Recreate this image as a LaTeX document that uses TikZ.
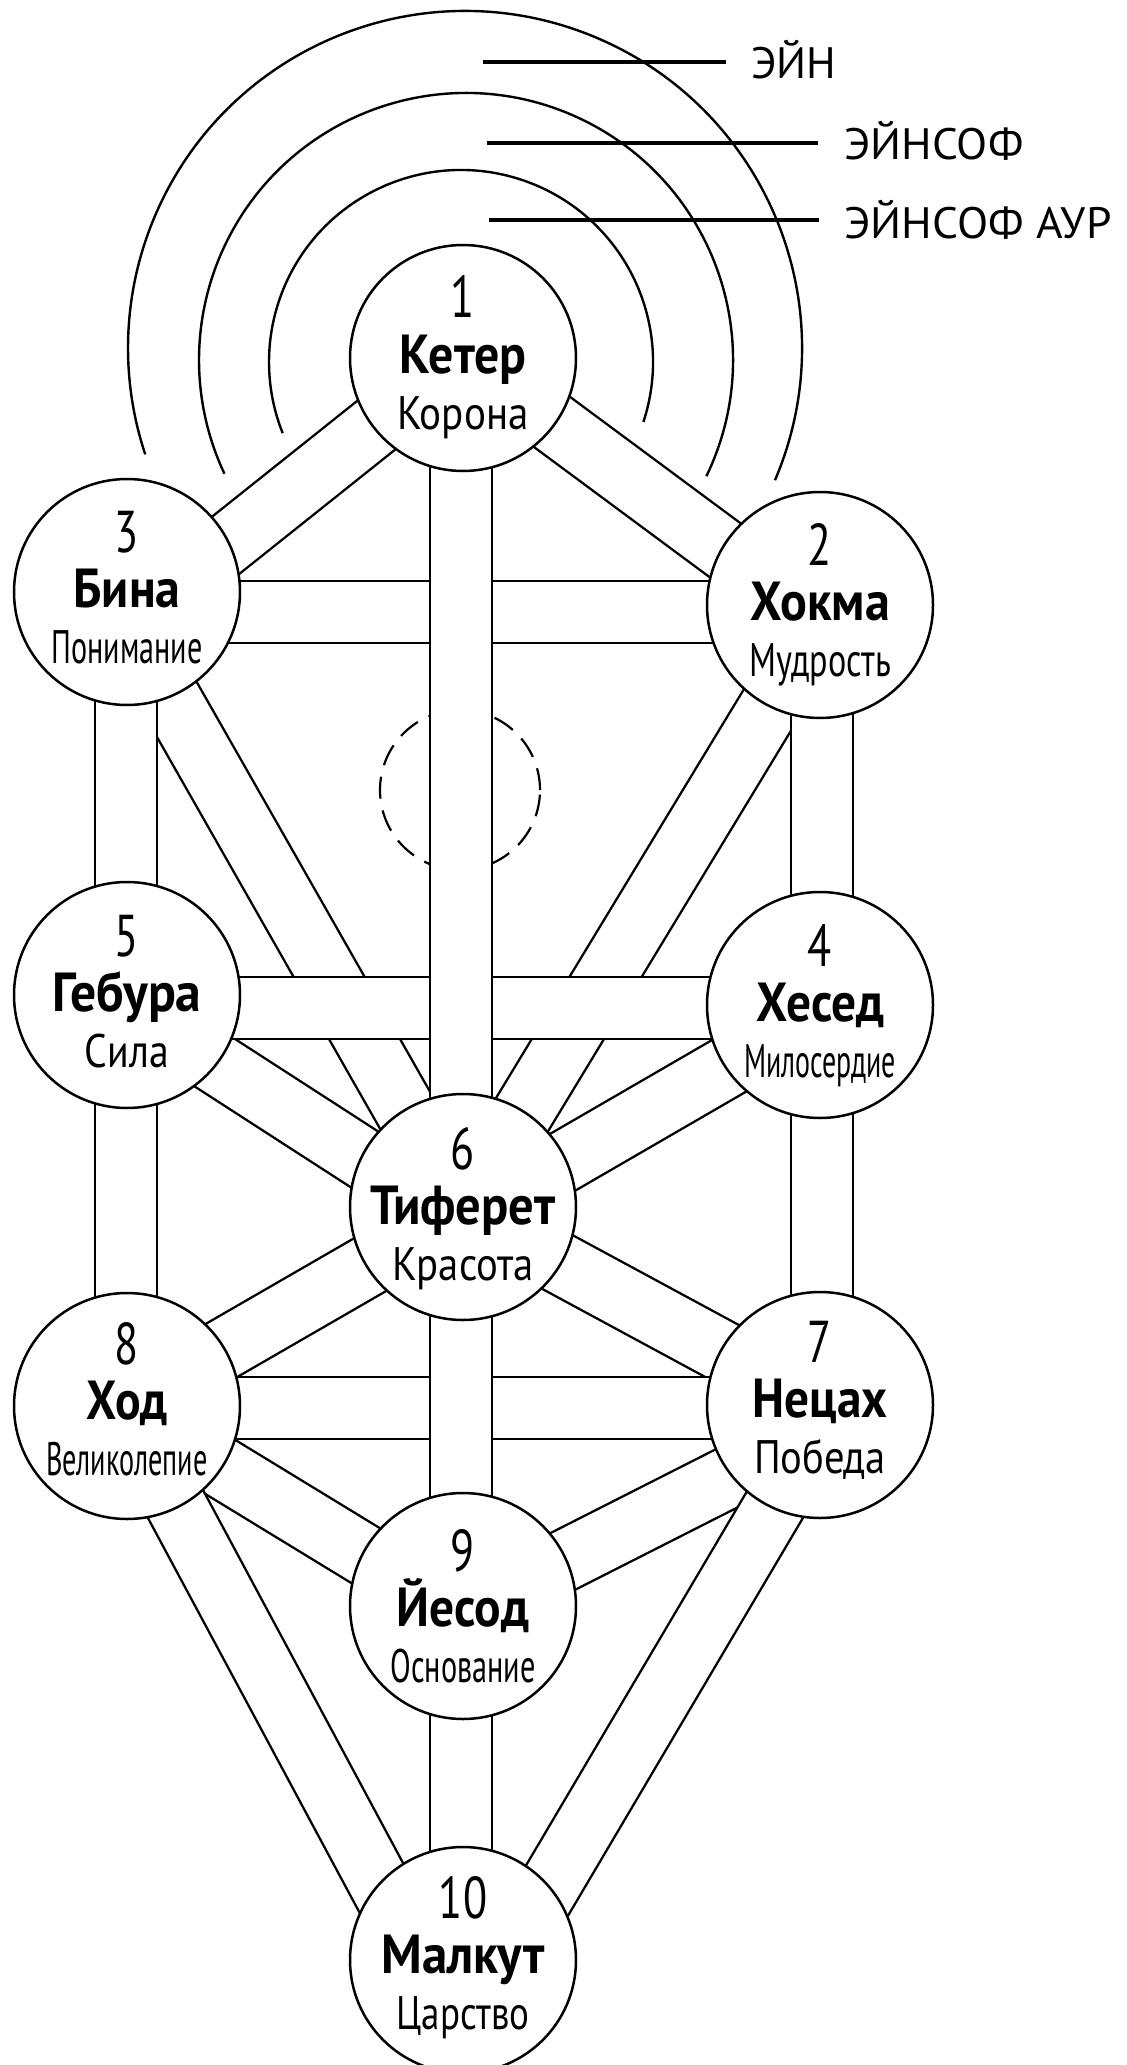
\documentclass[tikz,border=0pt]{standalone}
\usepackage{fontspec}
\setmainfont{PT Sans}
\usepackage{graphicx}
\usetikzlibrary{calc}
\pgfdeclarelayer{bgbg}
\pgfdeclarelayer{bg}
\pgfsetlayers{bgbg,bg,main}

\tikzset{
  sef/.style={circle,draw=black,line width=1.25pt,fill=white,minimum size=113pt,inner sep=0pt},
  bandout/.style={line width=32pt,draw=black},
  bandin/.style={line width=29.6pt,draw=white},
  numtxt/.style={anchor=base,inner sep=0pt,font=\fontsize{29.5}{31}\selectfont},
  nametxt/.style={anchor=base,inner sep=0pt,font=\fontsize{27.5}{29}\selectfont\bfseries},
  subtxt/.style={anchor=base,inner sep=0pt,font=\fontsize{23.5}{25}\selectfont},
  lbltxt/.style={anchor=base west,inner sep=0pt,font=\fontsize{22}{24}\selectfont},
  arcline/.style={line width=1.2pt},
  lblline/.style={line width=1.6pt},
  daatstyle/.style={circle,draw=black,dash pattern=on 11pt off 6pt,line width=1.1pt,minimum size=80pt,inner sep=0pt}
}
\newcommand\band[2]{\draw[bandout] #1 -- #2; \draw[bandin] #1 -- #2;}
\newcommand\sefira[8]{%
  \node[sef] (#1) at #2 {};
  \node[numtxt] (#1n) at ($(#1.center)+(0,{40-#8})$) {\scalebox{0.75}[1]{#3}};
  \node[nametxt] (#1t) at ($(#1.center)+(0,{-15-#8})$) {\resizebox{#5pt}{\height}{#4}};
  \node[subtxt] (#1s) at ($(#1.center)+(0,{-71-#8})$) {\resizebox{#7pt}{\height}{#6}};
}

\begin{document}
\begin{tikzpicture}[x=0.5pt,y=0.5pt]
\useasboundingbox (0,0) rectangle (1126,-2065);

% sefirot
\sefira{K}{(463,-358)}{1}{Кетер}{63.5}{Корона}{65.5}{0}
\sefira{B}{(127,-592)}{3}{Бина}{53.5}{Понимание}{75.5}{0}
\sefira{H}{(820,-605)}{2}{Хокма}{70}{Мудрость}{71}{0}
\sefira{G}{(127,-995)}{5}{Гебура}{74.5}{Сила}{42}{1}
\sefira{C}{(820,-1005)}{4}{Хесед}{64}{Милосердие}{76}{1}
\sefira{T}{(463,-1207)}{6}{Тиферет}{92.5}{Красота}{71}{2}
\sefira{D}{(127,-1406)}{8}{Ход}{41}{Великолепие}{80.5}{-2}
\sefira{N}{(820,-1405)}{7}{Нецах}{67.5}{Победа}{66}{-3}
\sefira{Y}{(463,-1606)}{9}{Йесод}{66.5}{Основание}{72.5}{5}
\sefira{M}{(463,-1960)}{10}{Малкут}{81.5}{Царство}{66.5}{-2}

% Daat and the three arcs
\begin{pgfonlayer}{bgbg}
  \node[daatstyle] (daat) at (460,-790) {};
  \coordinate (ca1) at (461,-362);
  \coordinate (ca2) at (466,-360);
  \coordinate (ca3) at (465,-348);
  \draw[arcline] ($(ca1)+(-18.2:96pt)$) arc[start angle=-18.2,end angle=201.75,radius=96pt];
  \draw[arcline] ($(ca2)+(-25.8:133.5pt)$) arc[start angle=-25.8,end angle=205.2,radius=133.5pt];
  \draw[arcline] ($(ca3)+(-23.1:168.5pt)$) arc[start angle=-23.1,end angle=198.4,radius=168.5pt];
\end{pgfonlayer}

% paths
\begin{pgfonlayer}{bg}
  % diagonals (lowest)
  \band{($(K.center)+(0,2)$)}{($(B.center)+(0,-32)$)}
  \band{($(K.center)+(0,2)$)}{($(H.center)+(2,-17)$)}
  \band{($(B.center)+(0,-30)$)}{($(T.center)+(0,-5)$)}
  \band{($(H.center)+(2,-15)$)}{($(T.center)+(0,-5)$)}
  \band{($(G.center)+(0,-11)$)}{($(T.center)+(0,-16)$)}
  \band{($(C.center)+(2,-7)$)}{($(T.center)+(0,-13)$)}
  \band{($(D.center)+(0,1)$)}{($(T.center)+(0,-4)$)}
  \band{($(N.center)+(2,0)$)}{($(T.center)+(0,-4)$)}
  \band{($(D.center)+(0,-4)$)}{($(Y.center)+(0,-9)$)}
  \band{($(N.center)+(2,-25)$)}{($(Y.center)+(0,-6)$)}
  \band{($(D.center)+(-3,-2)$)}{($(M.center)+(-43,0)$)}
  \band{($(N.center)+(12,-3)$)}{($(M.center)+(43,0)$)}
  % side pillars
  \band{($(B.center)+(-1,0)$)}{($(G.center)+(-1,0)$)}
  \band{($(H.center)+(2,0)$)}{($(C.center)+(2,0)$)}
  \band{($(G.center)+(-1,0)$)}{($(D.center)+(-1,0)$)}
  \band{($(C.center)+(2,0)$)}{($(N.center)+(2,0)$)}
  % horizontals
  \band{($(B.center)+(0,-20)$)}{($(H.center)+(0,-7)$)}
  \band{($(G.center)+(0,-13)$)}{($(C.center)+(0,-3)$)}
  \band{($(D.center)+(0,-2)$)}{($(N.center)+(0,-3)$)}
  % middle pillar (top)
  \band{($(K.center)+(-2,0)$)}{($(T.center)+(-2,0)$)}
  \band{($(T.center)+(-2,0)$)}{($(Y.center)+(-2,0)$)}
  \band{($(Y.center)+(-2,0)$)}{($(M.center)+(-2,0)$)}
\end{pgfonlayer}

% labels
\node[lbltxt] (ein) at (751,-79) {\resizebox{42.5pt}{\height}{ЭЙН}};
\node[lbltxt] (einsof) at (844,-160) {\resizebox{89.5pt}{\height}{ЭЙНСОФ}};
\node[lbltxt] (einsofaur) at (844,-239) {\resizebox{133.5pt}{\height}{ЭЙНСОФ АУР}};
\coordinate (s1) at (483,-62);
\coordinate (s2) at (487,-143);
\coordinate (s3) at (489,-220);
\path (s1 -| ein.west) coordinate (e1);
\path (s2 -| einsof.west) coordinate (e2);
\path (s3 -| einsofaur.west) coordinate (e3);
\draw[lblline] (s1) -- ($(e1)+(-25,0)$);
\draw[lblline] (s2) -- ($(e2)+(-26,0)$);
\draw[lblline] (s3) -- ($(e3)+(-25,0)$);
\end{tikzpicture}
\end{document}
